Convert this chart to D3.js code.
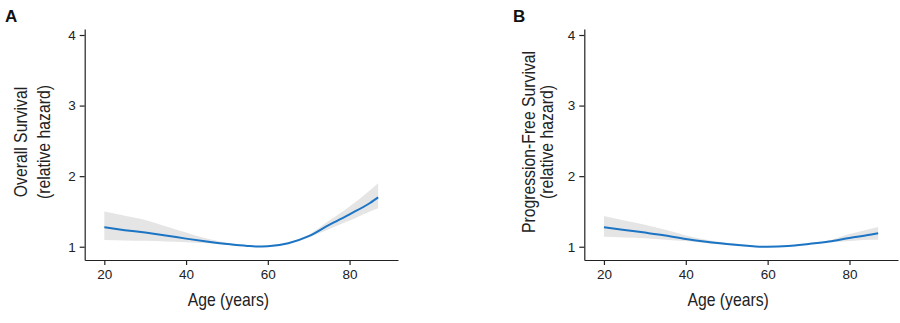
<!DOCTYPE html>
<html>
<head>
<meta charset="utf-8">
<script src="https://cdn.jsdelivr.net/npm/d3@7"></script>
<style>
  html, body { margin: 0; padding: 0; background: #fff; }
  svg { display: block; }
  .tick text { font-family: "Liberation Sans", Arial, sans-serif; font-size: 13.5px; fill: #222; }
  .title { font-family: "Liberation Sans", Arial, sans-serif; font-size: 19px; fill: #222; }
  .plabel { font-family: "Liberation Sans", Arial, sans-serif; font-size: 17px; font-weight: bold; fill: #111; }
</style>
</head>
<body>
<svg id="chart" width="900" height="323"></svg>
<script>
// ---- data ----
const ages = [20, 25, 30, 35, 40, 45, 50, 55, 57, 60, 65, 70, 75, 80, 85, 87];

const osHazard = [1.275, 1.235, 1.20, 1.16, 1.115, 1.075, 1.04, 1.012, 1.005, 1.008, 1.05, 1.15, 1.31, 1.46, 1.62, 1.70];
const osLower  = [1.095, 1.09, 1.085, 1.075, 1.065, 1.05, 1.03, 1.005, 1.0, 1.0, 1.04, 1.13, 1.25, 1.37, 1.50, 1.545];
const osUpper  = [1.50, 1.44, 1.38, 1.29, 1.20, 1.115, 1.055, 1.02, 1.01, 1.015, 1.06, 1.17, 1.37, 1.57, 1.80, 1.90];

const pfsHazard = [1.275, 1.237, 1.20, 1.16, 1.11, 1.07, 1.04, 1.015, 1.005, 1.0, 1.01, 1.04, 1.075, 1.125, 1.17, 1.19];
const pfsLower  = [1.14, 1.13, 1.12, 1.10, 1.08, 1.05, 1.025, 1.005, 1.0, 0.995, 1.0, 1.03, 1.06, 1.08, 1.10, 1.10];
const pfsUpper  = [1.435, 1.37, 1.31, 1.24, 1.16, 1.10, 1.055, 1.025, 1.012, 1.006, 1.02, 1.05, 1.09, 1.18, 1.25, 1.28];

const xTicks = [20, 40, 60, 80];
const yTicks = [1, 2, 3, 4];
const panelLabels = ["A", "B"];
const yTitles = [["Overall Survival", "(relative hazard)"], ["Progression-Free Survival", "(relative hazard)"]];
const xTitle = "Age (years)";

// ---- layout ----
const svg = d3.select("#chart");
const panels = [
  { label: panelLabels[0], titles: yTitles[0], hz: osHazard, lo: osLower, hi: osUpper, left: 84.7, right: 398, labelX: 5, t1: 27, t2: 50 },
  { label: panelLabels[1], titles: yTitles[1], hz: pfsHazard, lo: pfsLower, hi: pfsUpper, left: 584.3, right: 898, labelX: 513, t1: 535, t2: 553 }
];
const plotTop = 29, plotBottom = 260;
const narrow = 0.83;

panels.forEach(p => {
  const x = d3.scaleLinear().domain([15.2, 91.85]).range([p.left, p.right]);
  const y = d3.scaleLinear().domain([0.812, 4.085]).range([plotBottom, plotTop]);
  const g = svg.append("g");
  const data = ages.map((a, i) => ({ a, h: p.hz[i], lo: p.lo[i], hi: p.hi[i] }));

  g.append("path").datum(data)
    .attr("fill", "#e5e5e5")
    .attr("d", d3.area().curve(d3.curveMonotoneX).x(d => x(d.a)).y0(d => y(d.lo)).y1(d => y(d.hi)));
  g.append("path").datum(data)
    .attr("fill", "none").attr("stroke", "#1b74c4").attr("stroke-width", 2)
    .attr("d", d3.line().curve(d3.curveMonotoneX).x(d => x(d.a)).y(d => y(d.h)));

  const ax = g.append("g").attr("transform", `translate(0,${plotBottom})`)
    .call(d3.axisBottom(x).tickValues(xTicks).tickFormat(d3.format("d")).tickSize(5).tickPadding(4).tickSizeOuter(0));
  const ay = g.append("g").attr("transform", `translate(${p.left},0)`)
    .call(d3.axisLeft(y).tickValues(yTicks).tickFormat(d3.format("d")).tickSize(5).tickPadding(4).tickSizeOuter(0));
  [ax, ay].forEach(a => { a.selectAll("path, line").attr("stroke", "#222").attr("stroke-width", 1.2); });

  g.append("text").attr("class", "title").attr("text-anchor", "middle")
    .attr("transform", `translate(${(p.left + p.right) / 2 - 13},306) scale(${narrow},1)`).text(xTitle);

  p.titles.forEach((t, i) => {
    g.append("text").attr("class", "title").attr("text-anchor", "middle")
      .attr("transform", `translate(${i === 0 ? p.t1 : p.t2},142) rotate(-90) scale(${narrow},1)`).text(t);
  });

  g.append("text").attr("class", "plabel").attr("x", p.labelX).attr("y", 22).text(p.label);
});
</script>
</body>
</html>
